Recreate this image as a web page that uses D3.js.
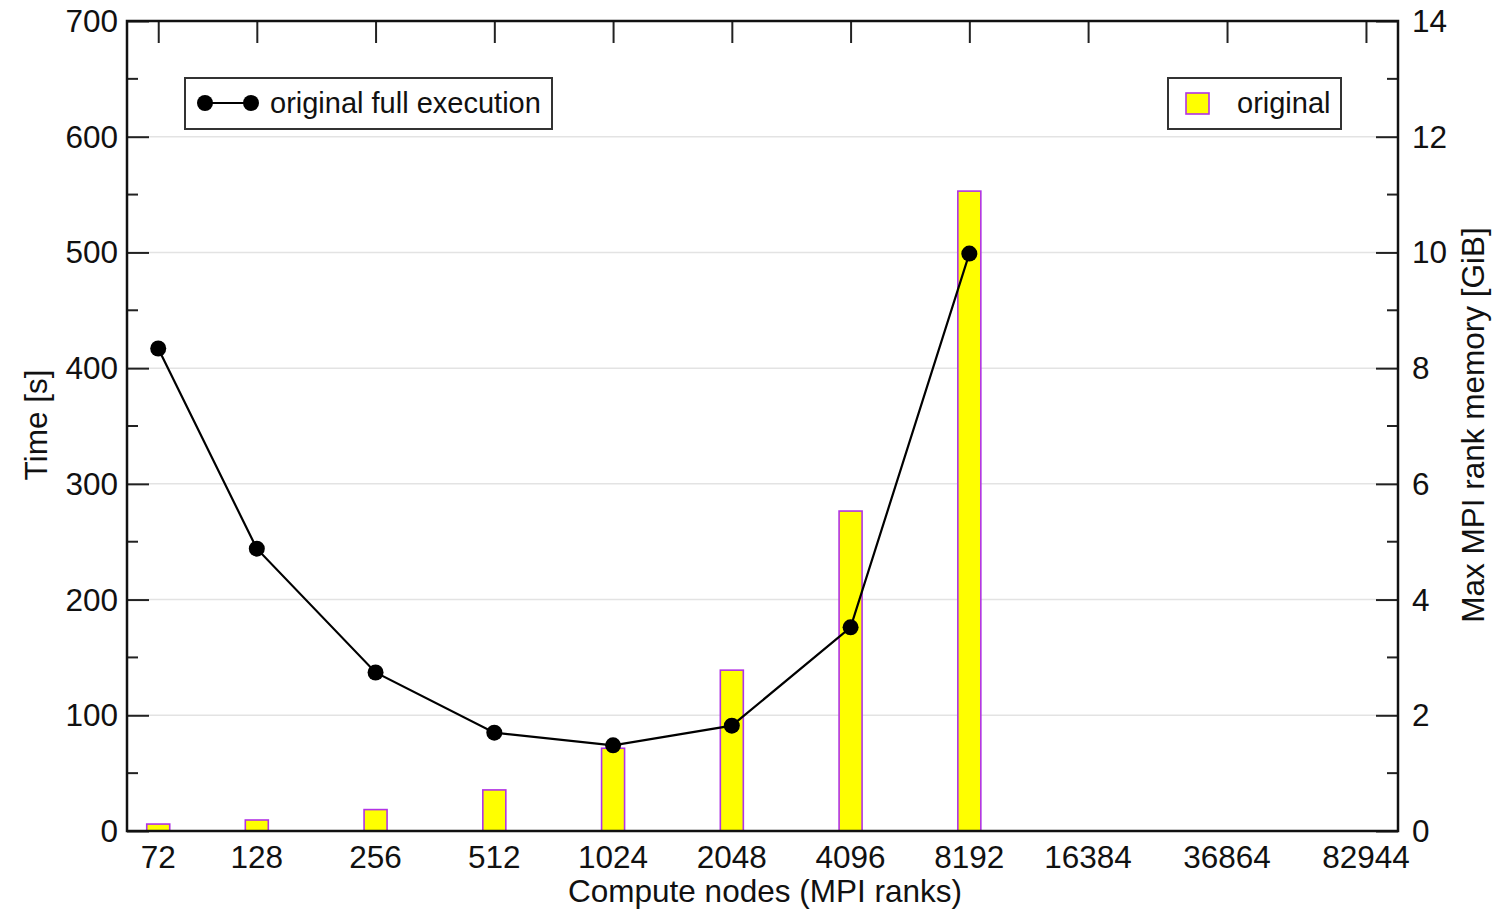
<!DOCTYPE html>
<html><head><meta charset="utf-8">
<script src="https://cdn.jsdelivr.net/npm/d3@7"></script>
<style>body{margin:0;background:#fff}svg{display:block}text{font-family:"Liberation Sans",Arial,sans-serif;fill:#111}</style>
</head><body>
<svg id="c" width="1507" height="909"></svg>
<script>
const categories = [72,128,256,512,1024,2048,4096,8192,16384,36864,82944];
const timeValues = [417,244,137,85,74,91,176,499]; // original full execution [s]
const memValues  = [0.12,0.19,0.37,0.71,1.43,2.78,5.53,11.06]; // max MPI rank memory [GiB]
const leftTicks = [0,100,200,300,400,500,600,700];
const rightTicks = [0,2,4,6,8,10,12,14];

const svg = d3.select("#c");
const L=127,R=1398,T=21,B=831;
const x = d3.scaleLog().base(2).domain([60,100000]).range([L,R]);
const yL = d3.scaleLinear().domain([0,700]).range([B,T]);
const yR = d3.scaleLinear().domain([0,14]).range([B,T]);
const fs = 31.5, lfs = 29;

// grid
svg.append("g").selectAll("line").data(leftTicks.slice(1,-1)).join("line")
  .attr("x1",L).attr("x2",R).attr("y1",d=>yL(d)).attr("y2",d=>yL(d))
  .attr("stroke","#e3e3e3").attr("stroke-width",1.5);

// bars
const bw=23;
svg.append("g").selectAll("rect").data(memValues).join("rect")
  .attr("x",(d,i)=>x(categories[i])-bw/2).attr("width",bw)
  .attr("y",d=>yR(d)).attr("height",d=>B-yR(d))
  .attr("fill","#ffff00").attr("stroke","#b033e6").attr("stroke-width",1.6);

// line
const line = d3.line().x((d,i)=>x(categories[i])).y(d=>yL(d));
svg.append("path").datum(timeValues).attr("d",line)
  .attr("fill","none").attr("stroke","#000").attr("stroke-width",2.2);
svg.append("g").selectAll("circle").data(timeValues).join("circle")
  .attr("cx",(d,i)=>x(categories[i])).attr("cy",d=>yL(d)).attr("r",8).attr("fill","#000");

// left axis ticks (inward)
const gl = svg.append("g").attr("transform",`translate(${L},0)`)
  .call(d3.axisLeft(yL).tickValues(leftTicks).tickSize(-22).tickFormat(""));
gl.select(".domain").remove();
gl.selectAll(".tick line").attr("stroke","#222").attr("stroke-width",2);
svg.append("g").selectAll("line").data(d3.range(50,700,100)).join("line")
  .attr("x1",L).attr("x2",L+11).attr("y1",d=>yL(d)).attr("y2",d=>yL(d))
  .attr("stroke","#222").attr("stroke-width",2);
svg.append("g").selectAll("text").data(leftTicks).join("text")
  .attr("x",L-9).attr("y",d=>yL(d)+11).attr("text-anchor","end").attr("font-size",fs).text(d=>d);

// right axis
const gr = svg.append("g").attr("transform",`translate(${R},0)`)
  .call(d3.axisRight(yR).tickValues(rightTicks).tickSize(-22).tickFormat(""));
gr.select(".domain").remove();
gr.selectAll(".tick line").attr("stroke","#222").attr("stroke-width",2);
svg.append("g").selectAll("line").data(d3.range(1,14,2)).join("line")
  .attr("x1",R-11).attr("x2",R).attr("y1",d=>yR(d)).attr("y2",d=>yR(d))
  .attr("stroke","#222").attr("stroke-width",2);
svg.append("g").selectAll("text").data(rightTicks).join("text")
  .attr("x",R+14).attr("y",d=>yR(d)+11).attr("text-anchor","start").attr("font-size",fs).text(d=>d);

// top ticks
const gt = svg.append("g").attr("transform",`translate(0,${T})`)
  .call(d3.axisTop(x).tickValues(categories).tickSize(-22).tickFormat(""));
gt.select(".domain").remove();
gt.selectAll(".tick line").attr("stroke","#222").attr("stroke-width",2);

// bottom labels
svg.append("g").selectAll("text").data(categories).join("text")
  .attr("x",d=>x(d)).attr("y",868).attr("text-anchor","middle").attr("font-size",fs).text(d=>d);

// frame
svg.append("rect").attr("x",L).attr("y",T).attr("width",R-L).attr("height",B-T)
  .attr("fill","none").attr("stroke","#111").attr("stroke-width",2.5);

// axis titles
svg.append("text").attr("x",765).attr("y",902).attr("text-anchor","middle").attr("font-size",fs).text("Compute nodes (MPI ranks)");
svg.append("text").attr("transform",`translate(47,425) rotate(-90)`).attr("text-anchor","middle").attr("font-size",fs).text("Time [s]");
svg.append("text").attr("transform",`translate(1484,425) rotate(-90)`).attr("text-anchor","middle").attr("font-size",fs).text("Max MPI rank memory [GiB]");

// legend 1
const lg1 = svg.append("g");
lg1.append("rect").attr("x",185).attr("y",78).attr("width",367).attr("height",51).attr("fill","#fff").attr("stroke","#333").attr("stroke-width",2);
lg1.append("line").attr("x1",205).attr("x2",251).attr("y1",103).attr("y2",103).attr("stroke","#000").attr("stroke-width",2.2);
lg1.append("circle").attr("cx",205).attr("cy",103).attr("r",8);
lg1.append("circle").attr("cx",251).attr("cy",103).attr("r",8);
lg1.append("text").attr("x",270).attr("y",113).attr("font-size",lfs).text("original full execution");

// legend 2
const lg2 = svg.append("g");
lg2.append("rect").attr("x",1168).attr("y",78).attr("width",173).attr("height",51).attr("fill","#fff").attr("stroke","#333").attr("stroke-width",2);
lg2.append("rect").attr("x",1186).attr("y",93).attr("width",23).attr("height",21).attr("fill","#ffff00").attr("stroke","#b033e6").attr("stroke-width",1.6);
lg2.append("text").attr("x",1237).attr("y",113).attr("font-size",lfs).text("original");
</script>
</body></html>
